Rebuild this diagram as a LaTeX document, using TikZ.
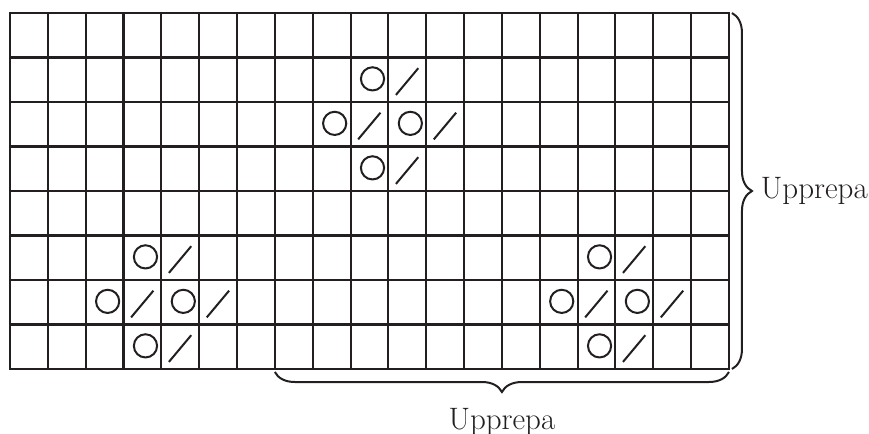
\documentclass[tikz,border=0pt]{standalone}
\usetikzlibrary{decorations.pathreplacing}
\definecolor{chartink}{RGB}{35,31,32}
\begin{document}
\begin{tikzpicture}[x=0.5pt, y=-0.5pt,
    cellline/.style={line width=1.05pt, line cap=rect, color=chartink},
    stitchmark/.style={line width=1pt, color=chartink},
    repeatbrace/.style={decorate, line width=1pt, color=chartink,
        decoration={brace, amplitude=10pt, raise=1.5pt}},
    repeatlabel/.style={inner sep=0pt, color=chartink, font=\fontsize{15.5}{18}\selectfont}]
    \useasboundingbox (0,0) rectangle (869,434);
    % chart: 19 stitches x 8 rows, one unit = one cell
    \begin{scope}[shift={(10,13)}, x=18.92pt, y=-22.25pt]
        \foreach \i in {0,...,19} \draw[cellline] (\i,0) -- (\i,8);
        \foreach \j in {0,...,8} \draw[cellline] (0,\j) -- (19,\j);
        % yarn over (circle) and the decrease beside it
        \foreach \c/\r in {9/1, 8/2, 10/2, 9/3, 3/5, 2/6, 4/6, 3/7, 15/5, 14/6, 16/6, 15/7} {
            \draw[stitchmark] (\c+0.58,\r+0.48) circle (5.8pt);
            \draw[stitchmark] (\c+1.2,\r+0.84) -- (\c+1.79,\r+0.24);
        }
        \coordinate (chartNE) at (19,0);
        \coordinate (chartSE) at (19,8);
        \coordinate (repeatSW) at (7,8);
    \end{scope}
    \draw[repeatbrace] (chartNE) -- (chartSE)
        node[repeatlabel, midway, right=15.5pt] (rowrepeat) {Upprepa};
    \draw[repeatbrace] (chartSE) -- (repeatSW)
        node[repeatlabel, midway, below=19pt] (stitchrepeat) {Upprepa};
\end{tikzpicture}
\end{document}
